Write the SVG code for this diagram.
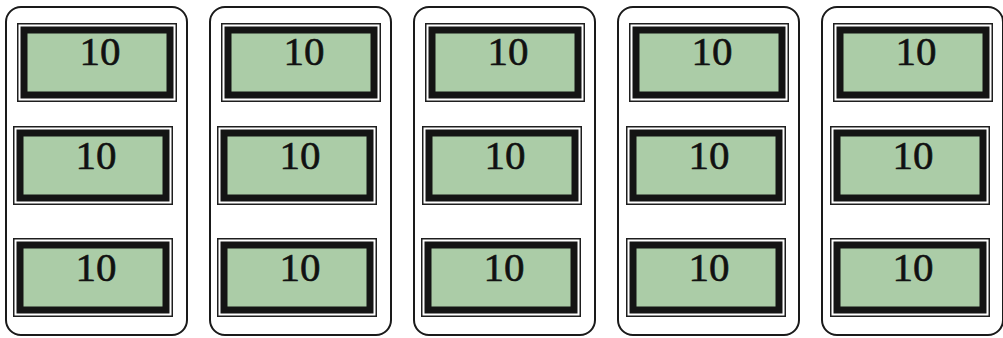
<svg xmlns="http://www.w3.org/2000/svg" width="1003" height="338" viewBox="0 0 1003 338">
<style>
.panel{fill:#fff;stroke:#1a1a1a;stroke-width:2}
.frame{fill:#fff;stroke:#1e1e1e;stroke-width:1.5}
.lcd{fill:#abcca7;stroke:#141414;stroke-width:7}
.num{font-family:"Liberation Serif","Times New Roman",serif;font-size:41px;fill:#111;stroke:#111;stroke-width:0.6;text-anchor:middle}
</style>
<defs>
<g id="box">
<rect class="frame" x="0.75" y="0.75" width="158.5" height="77.5"/>
<rect class="lcd" x="7" y="7" width="146" height="65"/>
</g>
</defs>
<rect width="1003" height="338" fill="#fff"/>
<g id="panels">
<rect id="panel1" class="panel" x="6" y="7" width="181" height="328" rx="15"/>
<rect id="panel2" class="panel" x="210" y="7" width="181" height="328" rx="15"/>
<rect id="panel3" class="panel" x="414" y="7" width="181" height="328" rx="15"/>
<rect id="panel4" class="panel" x="618" y="7" width="181" height="328" rx="15"/>
<rect id="panel5" class="panel" x="822" y="7" width="181" height="328" rx="15"/>
</g>
<g id="c1r1" transform="translate(17,23)"><use href="#box"/><text class="num" x="83" y="42">10</text></g>
<g id="c1r2" transform="translate(13,126)"><use href="#box"/><text class="num" x="83" y="43">10</text></g>
<g id="c1r3" transform="translate(13,238)"><use href="#box"/><text class="num" x="83" y="43">10</text></g>
<g id="c2r1" transform="translate(221,23)"><use href="#box"/><text class="num" x="83" y="42">10</text></g>
<g id="c2r2" transform="translate(217,126)"><use href="#box"/><text class="num" x="83" y="43">10</text></g>
<g id="c2r3" transform="translate(217,238)"><use href="#box"/><text class="num" x="83" y="43">10</text></g>
<g id="c3r1" transform="translate(425,23)"><use href="#box"/><text class="num" x="83" y="42">10</text></g>
<g id="c3r2" transform="translate(422,126)"><use href="#box"/><text class="num" x="83" y="43">10</text></g>
<g id="c3r3" transform="translate(421,238)"><use href="#box"/><text class="num" x="83" y="43">10</text></g>
<g id="c4r1" transform="translate(629,23)"><use href="#box"/><text class="num" x="83" y="42">10</text></g>
<g id="c4r2" transform="translate(626,126)"><use href="#box"/><text class="num" x="83" y="43">10</text></g>
<g id="c4r3" transform="translate(626,238)"><use href="#box"/><text class="num" x="83" y="43">10</text></g>
<g id="c5r1" transform="translate(833,23)"><use href="#box"/><text class="num" x="83" y="42">10</text></g>
<g id="c5r2" transform="translate(830,126)"><use href="#box"/><text class="num" x="83" y="43">10</text></g>
<g id="c5r3" transform="translate(830,238)"><use href="#box"/><text class="num" x="83" y="43">10</text></g>
</svg>
